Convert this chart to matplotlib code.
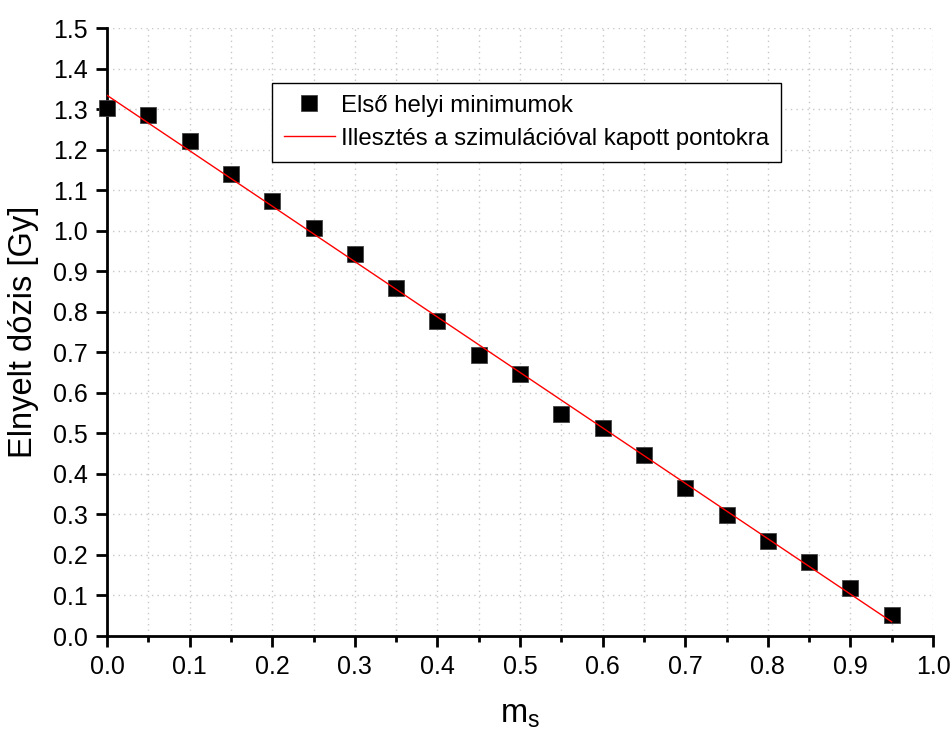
import matplotlib.pyplot as plt
from matplotlib.ticker import MultipleLocator

plt.rcParams['font.family'] = ['Liberation Sans', 'DejaVu Sans']

# Data
ms_values = [0.0, 0.05, 0.1, 0.15, 0.2, 0.25, 0.3, 0.35, 0.4, 0.45,
             0.5, 0.55, 0.6, 0.65, 0.7, 0.75, 0.8, 0.85, 0.9, 0.95]
dose_values = [1.303, 1.285, 1.221, 1.140, 1.073, 1.007, 0.943, 0.859, 0.777, 0.693,
               0.646, 0.548, 0.513, 0.447, 0.365, 0.299, 0.234, 0.183, 0.118, 0.052]

# Fitted line endpoints
fit_x = [0.0, 0.95]
fit_y = [1.334, 0.035]

fig = plt.figure(figsize=(9.52, 7.34), dpi=100)
ax = fig.add_axes([107 / 952, 1 - 636 / 734, 826 / 952, 608 / 734])

ax.plot(ms_values, dose_values, linestyle='none', marker='s', markersize=12,
        color='black', markeredgecolor='#444444', markeredgewidth=0.6,
        label='Első helyi minimumok', zorder=3, clip_on=False)
ax.plot(fit_x, fit_y, color='red', linewidth=1,
        label='Illesztés a szimulációval kapott pontokra', zorder=4)

ax.set_xlim(0, 1.0)
ax.set_ylim(0, 1.5)
ax.xaxis.set_major_locator(MultipleLocator(0.1))
ax.xaxis.set_minor_locator(MultipleLocator(0.05))
ax.yaxis.set_major_locator(MultipleLocator(0.1))
ax.xaxis.set_major_formatter(plt.FormatStrFormatter('%.1f'))
ax.yaxis.set_major_formatter(plt.FormatStrFormatter('%.1f'))

ax.grid(which='major', linestyle=(0, (1, 3)), color='#c8c8c8', linewidth=1)
ax.grid(which='minor', axis='x', linestyle=(0, (1, 3)), color='#c8c8c8', linewidth=1)
ax.set_axisbelow(True)

for side in ['top', 'right']:
    ax.spines[side].set_visible(False)
for side in ['left', 'bottom']:
    ax.spines[side].set_linewidth(2)

ax.tick_params(which='major', direction='out', length=8, width=2, labelsize=18, pad=6)
ax.tick_params(which='minor', direction='out', length=4, width=2)

ax.set_xlabel(r'$\mathregular{m_s}$', fontsize=23.5, labelpad=14)
ax.set_ylabel('Elnyelt dózis [Gy]', fontsize=23.5, labelpad=10)

leg = ax.legend(loc='upper left', bbox_to_anchor=(0.2, 0.91), fontsize=17.3,
                frameon=True, fancybox=False, edgecolor='black', framealpha=1,
                handlelength=2.1, handletextpad=0.25, borderpad=0.5,
                labelspacing=0.46, borderaxespad=0)
leg.get_frame().set_linewidth(1)

fig.savefig('out.png', dpi=100)
